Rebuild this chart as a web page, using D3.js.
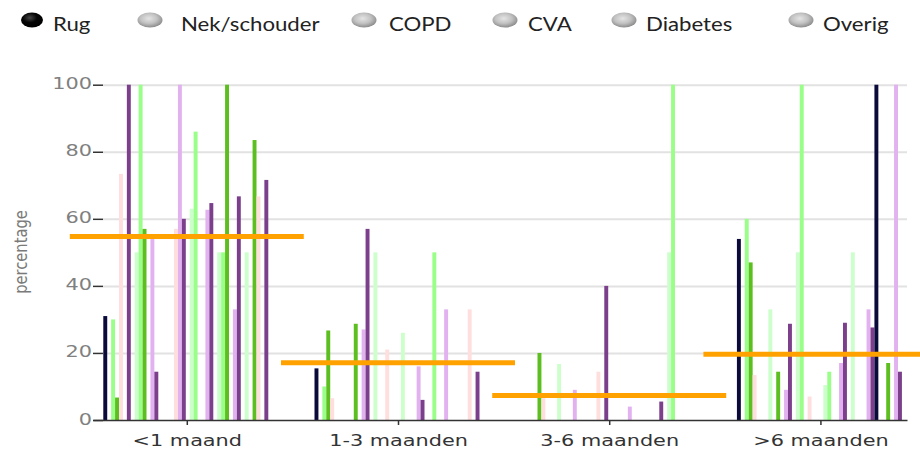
<!DOCTYPE html>
<html>
<head>
<meta charset="utf-8">
<script src="https://cdn.jsdelivr.net/npm/d3@7"></script>
<style>
  body { margin: 0; background: #fff; }
  svg { display: block; }
</style>
</head>
<body>
<svg id="chart"></svg>
<script>
const periods = ['<1 maand', '1-3 maanden', '3-6 maanden', '>6 maanden'];
const diagnoses = ['Rug', 'Nek/schouder', 'COPD', 'CVA', 'Diabetes', 'Overig'];
const subColors = ['#0b0b3b', '#ccffcc', '#99ff88', '#5cbf1f', '#ffdede', '#e2b2f0', '#7b3f8c'];

// one row per diagnosis, seven sub-series per row
const values_lt1 = [
  [31, 0, 30, 6.7, 73.4, 0, 100],
  [0, 50, 100, 57, 0, 54, 14.4],
  [0, 0, 0, 0, 57, 100, 60],
  [0, 63, 86, 0, 0, 62.7, 64.7],
  [0, 50, 50, 100, 0, 33, 66.7],
  [0, 50, 0, 83.5, 66.7, 0, 71.6]
];
const values_1to3 = [
  [15.4, 0, 10, 26.7, 6.5, 0, 0],
  [0, 0, 0, 28.7, 0, 27, 57],
  [0, 50, 0, 0, 21, 0, 0],
  [0, 26, 0, 0, 0, 16, 6],
  [0, 0, 50, 0, 0, 33, 0],
  [0, 0, 0, 0, 33, 0, 14.4]
];
const values_3to6 = [
  [0, 0, 0, 20, 6.5, 0, 0],
  [0, 16.7, 0, 0, 0, 9, 0],
  [0, 0, 0, 0, 14.4, 0, 40],
  [0, 0, 0, 0, 0, 4, 0],
  [0, 0, 0, 0, 0, 0, 5.5],
  [0, 50, 100, 0, 0, 0, 0]
];
const values_gt6 = [
  [54, 0, 60, 47, 13.4, 0, 0],
  [0, 33, 0, 14.4, 0, 9, 28.7],
  [0, 50, 100, 0, 7, 0, 0],
  [0, 10.4, 14.4, 0, 0, 17, 29],
  [0, 50, 0, 0, 0, 33, 27.6],
  [100, 0, 0, 17, 0, 100, 14.4]
];
const averages = [54.7, 17.1, 7.3, 19.6];
const yTicks = [0, 20, 40, 60, 80, 100];

const allValues = [values_lt1, values_1to3, values_3to6, values_gt6];

const width = 920, height = 451;
const plot = { left: 93, right: 907, top: 84.7, bottom: 420 };

const svg = d3.select('#chart')
  .attr('width', width)
  .attr('height', height);

const x = d3.scalePoint()
  .domain(periods)
  .range([plot.left, plot.right])
  .padding(0.427)
  .align(0.52);

const nSlots = diagnoses.length * subColors.length;
const slot = d3.scaleBand()
  .domain(d3.range(nSlots))
  .range([-83.5, 81.5]);

const y = d3.scaleLinear()
  .domain([0, 100])
  .range([plot.bottom, plot.top]);

// stretch text horizontally, the source picture is widened
function stretch(sel, k) {
  sel.each(function () {
    const w = this.getComputedTextLength();
    d3.select(this).attr('textLength', w * k).attr('lengthAdjust', 'spacingAndGlyphs');
  });
}

// gridlines
svg.append('g')
  .attr('transform', `translate(${plot.left + 10},0)`)
  .call(d3.axisLeft(y).tickValues(yTicks.slice(1)).tickSize(-(plot.right - plot.left - 10)).tickFormat(''))
  .call(g => g.select('.domain').remove())
  .selectAll('line')
  .attr('stroke', '#e2e2e2')
  .attr('stroke-width', 2);

// bars
const bars = [];
allValues.forEach((rows, p) => {
  rows.forEach((row, d) => {
    row.forEach((v, s) => {
      if (v > 0) bars.push({ period: periods[p], slot: d * subColors.length + s, value: v, color: subColors[s] });
    });
  });
});

svg.append('g')
  .selectAll('rect')
  .data(bars)
  .enter()
  .append('rect')
  .attr('x', d => x(d.period) + slot(d.slot))
  .attr('y', d => y(d.value))
  .attr('width', slot.bandwidth())
  .attr('height', d => y(0) - y(d.value))
  .attr('fill', d => d.color);

// y axis
const yAxis = svg.append('g')
  .attr('transform', `translate(${plot.left + 10},0)`)
  .call(d3.axisLeft(y).tickValues(yTicks).tickSize(10).tickPadding(1))
  .call(g => g.select('.domain').remove());
yAxis.selectAll('line').attr('stroke', '#333').attr('stroke-width', 1.5);
yAxis.selectAll('text')
  .attr('dy', '0.25em')
  .style('font-family', 'DejaVu Sans')
  .style('font-size', '16px')
  .attr('fill', '#808080')
  .call(stretch, 1.3);

// x axis
const xAxis = svg.append('g')
  .attr('transform', `translate(0,${plot.bottom})`)
  .call(d3.axisBottom(x).tickSize(5).tickSizeOuter(0).tickPadding(10));
xAxis.select('.domain').attr('stroke', '#333').attr('stroke-width', 1.5);
xAxis.selectAll('line').attr('stroke', '#333').attr('stroke-width', 1.5);
xAxis.selectAll('text')
  .style('font-family', 'DejaVu Sans')
  .style('font-size', '16px')
  .attr('fill', '#333')
  .call(stretch, 1.3);

// y axis label
svg.append('text')
  .attr('transform', `translate(27, 252) rotate(-90) scale(1.05, 1.3)`)
  .attr('text-anchor', 'middle')
  .style('font-family', 'DejaVu Sans')
  .style('font-size', '14px')
  .attr('fill', '#7a7a7a')
  .text('percentage');

// average lines
svg.append('g')
  .selectAll('line')
  .data(averages)
  .enter()
  .append('line')
  .attr('x1', (d, i) => x(periods[i]) - 117)
  .attr('x2', (d, i) => x(periods[i]) + 117)
  .attr('y1', d => y(d))
  .attr('y2', d => y(d))
  .attr('stroke', '#ffa200')
  .attr('stroke-width', 5);

// legend
const defs = svg.append('defs');
const gb = defs.append('radialGradient').attr('id', 'dotOn').attr('cx', '40%').attr('cy', '35%').attr('r', '65%');
gb.append('stop').attr('offset', '0%').attr('stop-color', '#444');
gb.append('stop').attr('offset', '50%').attr('stop-color', '#050505');
gb.append('stop').attr('offset', '100%').attr('stop-color', '#000');
const gg = defs.append('radialGradient').attr('id', 'dotOff').attr('cx', '45%').attr('cy', '40%').attr('r', '60%');
gg.append('stop').attr('offset', '0%').attr('stop-color', '#e4e4e4');
gg.append('stop').attr('offset', '55%').attr('stop-color', '#c2c2c2');
gg.append('stop').attr('offset', '100%').attr('stop-color', '#8c8c8c');

const legendDotX = [32, 150, 364, 505, 624, 801];
const legendTextX = [53, 181, 389, 528, 646, 823];
const legend = svg.append('g');

legend.selectAll('ellipse')
  .data(diagnoses)
  .enter()
  .append('ellipse')
  .attr('cx', (d, i) => legendDotX[i])
  .attr('cy', 20)
  .attr('rx', (d, i) => i === 0 ? 11 : 12.5)
  .attr('ry', 7.5)
  .attr('fill', (d, i) => i === 0 ? 'url(#dotOn)' : 'url(#dotOff)');

legend.selectAll('text')
  .data(diagnoses)
  .enter()
  .append('text')
  .attr('x', (d, i) => legendTextX[i])
  .attr('y', 31)
  .style('font-family', 'Lato')
  .style('font-size', '18.5px')
  .attr('fill', '#222')
  .text(d => d)
  .call(stretch, 1.2);
</script>
</body>
</html>
